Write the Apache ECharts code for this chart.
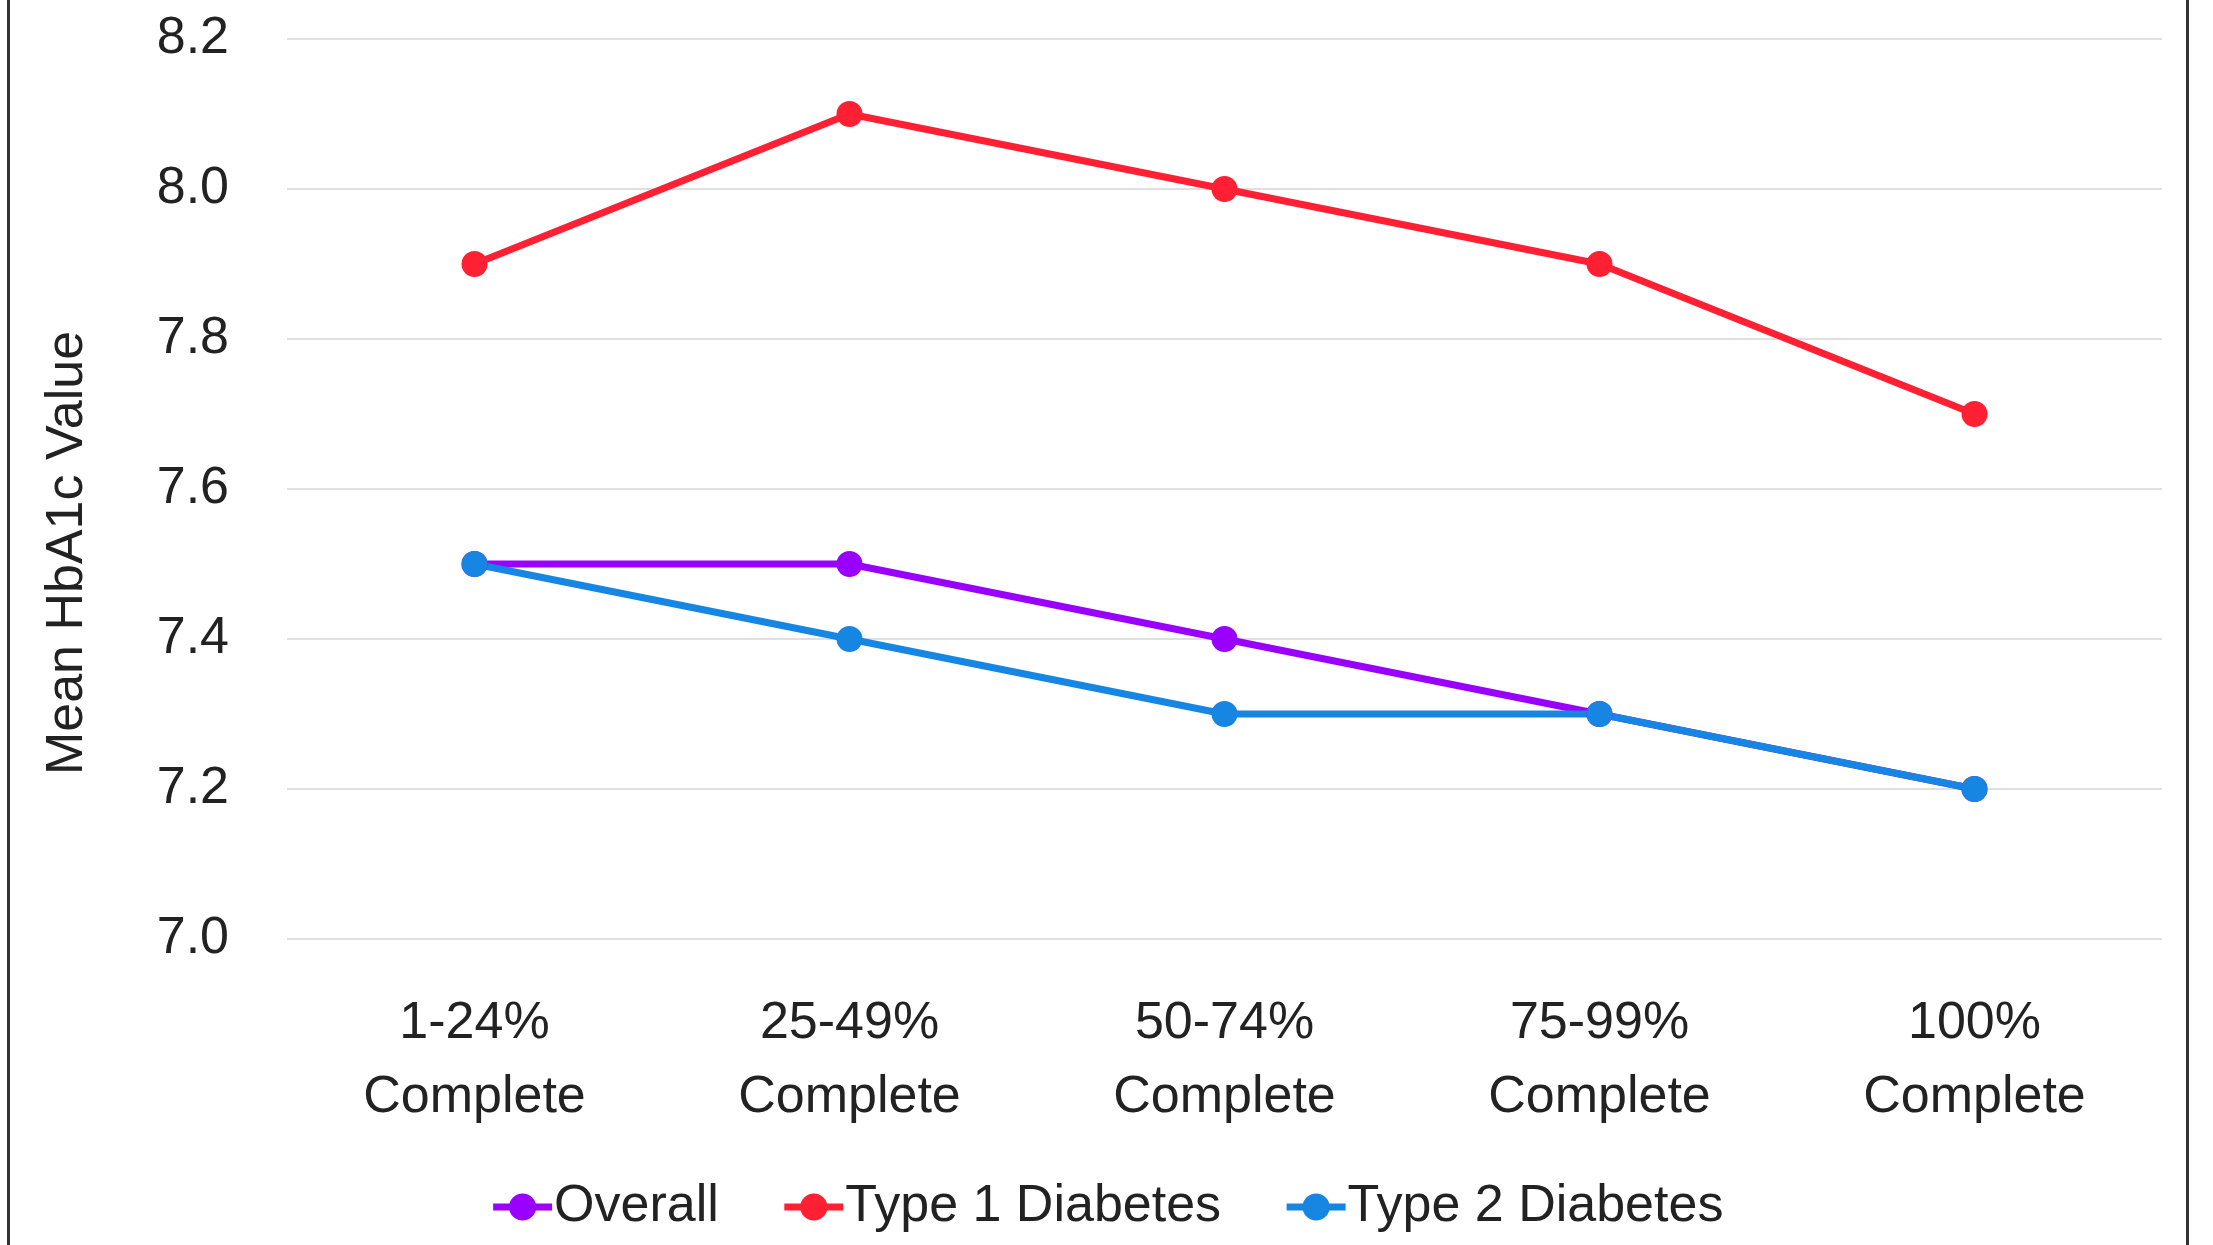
<!DOCTYPE html>
<html lang="en">
<head>
<meta charset="UTF-8">
<script src="https://cdn.jsdelivr.net/npm/echarts@6/dist/echarts.min.js"></script>
<style>
	html, body { margin: 0; padding: 0; background: #fff; }
	#frame {
		position: absolute; left: 7px; top: 0; width: 2176px; height: 1245px;
		border-left: 3px solid #333; border-right: 3px solid #333;
	}
	#chart { position: absolute; left: 0; top: 0; width: 2213px; height: 1245px; }
</style>
</head>
<body>
	<div id="frame"></div>
	<div id="chart"></div>
	<script type="text/javascript">
		// categories and values
		var categories = ['1-24%\nComplete', '25-49%\nComplete', '50-74%\nComplete', '75-99%\nComplete', '100%\nComplete'];
		var overall = [7.5, 7.5, 7.4, 7.3, 7.2];
		var type1 = [7.9, 8.1, 8.0, 7.9, 7.7];
		var type2 = [7.5, 7.4, 7.3, 7.3, 7.2];
		var seriesNames = ['Overall', 'Type 1 Diabetes', 'Type 2 Diabetes'];
		var colors = ['#9900ff', '#ff2034', '#1686e2'];

		var font = 'Liberation Sans, Arial, sans-serif';
		var textColor = '#222';

		function lineSeries(name, data, color) {
			return {
				name: name,
				type: 'line',
				data: data,
				symbol: 'circle',
				symbolSize: 26,
				lineStyle: { width: 7, color: color },
				itemStyle: { color: color },
				emphasis: { disabled: true }
			};
		}

		var mychart = echarts.init(document.getElementById('chart'));
		var option = {
			animation: false,
			grid: { left: 287, right: 51, top: 39, bottom: 306 },
			legend: {
				top: 1176,
				left: 'center',
				itemWidth: 59,
				itemHeight: 34,
				itemGap: 62,
				lineStyle: { width: 7 },
				textStyle: { fontFamily: font, fontSize: 52, color: textColor, padding: [0, 0, 0, -3] },
				data: seriesNames
			},
			xAxis: {
				type: 'category',
				data: categories,
				axisLine: { show: false },
				axisTick: { show: false },
				axisLabel: {
					margin: 48,
					fontFamily: font,
					fontSize: 52,
					lineHeight: 74,
					color: textColor
				}
			},
			yAxis: {
				type: 'value',
				min: 7.0,
				max: 8.2,
				interval: 0.2,
				name: 'Mean HbA1c Value',
				nameLocation: 'middle',
				nameGap: 193,
				nameTextStyle: { fontFamily: font, fontSize: 52, color: textColor, padding: [0, 128, 0, 0] },
				axisLine: { show: false },
				axisTick: { show: false },
				splitLine: { lineStyle: { color: '#e0e0e0', width: 2 } },
				axisLabel: {
					margin: 58,
					fontFamily: font,
					fontSize: 52,
					color: textColor,
					formatter: function (v) { return v.toFixed(1); }
				}
			},
			series: [
				lineSeries(seriesNames[0], overall, colors[0]),
				lineSeries(seriesNames[1], type1, colors[1]),
				lineSeries(seriesNames[2], type2, colors[2])
			]
		};
		mychart.setOption(option);
	</script>
</body>
</html>
